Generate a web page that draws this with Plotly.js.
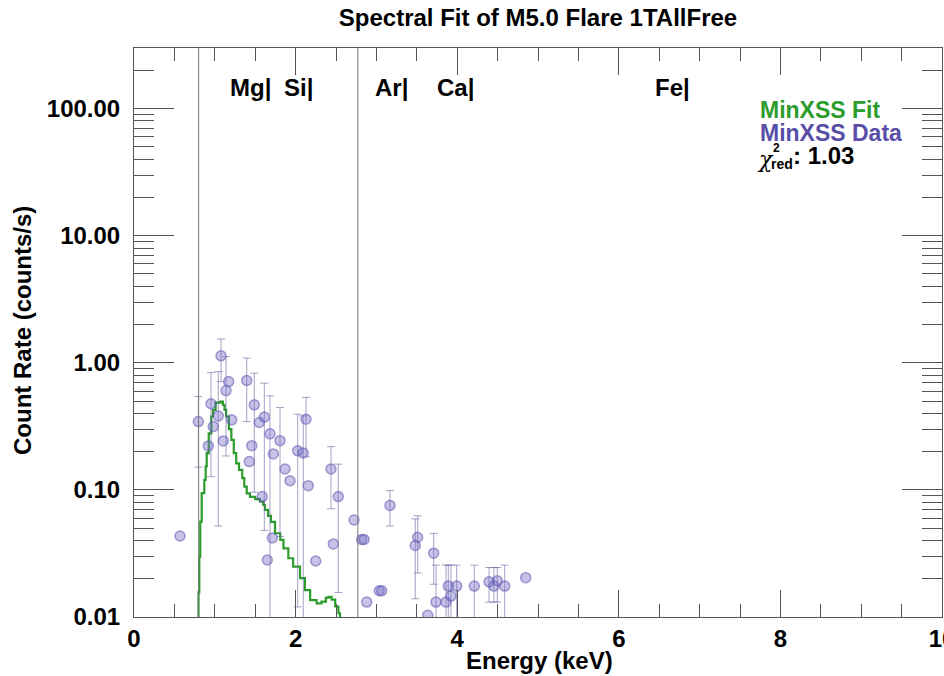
<!DOCTYPE html>
<html>
<head>
<meta charset="utf-8">
<script src="https://cdn.plot.ly/plotly-3.0.1.min.js"></script>
<style>html,body{margin:0;padding:0;background:#fff;}#chart{width:944px;height:676px;}</style>
</head>
<body>
<div id="chart"></div>
<script>
// ---- Data ----
const dataEnergy = [0.569,0.796,0.920,0.953,0.981,1.043,1.077,1.105,1.139,1.172,1.209,1.395,1.427,1.457,1.489,1.551,1.588,1.613,1.650,1.683,1.712,1.724,1.807,1.869,1.931,2.026,2.095,2.129,2.157,2.249,2.438,2.467,2.528,2.723,2.818,2.847,2.880,3.036,3.066,3.168,3.481,3.511,3.635,3.709,3.738,3.861,3.890,3.923,3.994,4.212,4.394,4.455,4.496,4.588,4.848];
const dataRate   = [0.0434,0.345,0.222,0.476,0.315,0.382,1.135,0.243,0.605,0.712,0.356,0.726,0.167,0.223,0.467,0.339,0.0886,0.374,0.0281,0.276,0.0418,0.192,0.244,0.146,0.118,0.203,0.195,0.360,0.108,0.0276,0.146,0.0376,0.0886,0.058,0.0408,0.0408,0.0131,0.0161,0.0161,0.0755,0.0365,0.0424,0.0103,0.0318,0.0131,0.0131,0.0175,0.0146,0.0175,0.0175,0.0189,0.0175,0.0193,0.0175,0.0204];
// null = no error bar visible in the reference
const dataErrPlus  = [null,0.198,null,0.362,null,0.47,0.405,null,0.515,null,null,0.364,null,null,0.362,null,null,0.318,null,0.274,null,null,0.201,null,null,0.191,0.187,0.175,null,null,0.073,null,0.071,null,null,null,null,null,null,0.0233,0.0226,0.0202,null,0.0137,0.0125,0.0125,0.0081,0.011,0.0081,0.0081,0.0056,0.007,0.0052,0.0081,null];
const dataErrMinus = [null,0.194,null,0.349,null,0.33,0.425,null,0.42,null,null,0.381,null,null,0.371,null,null,0.326,null,0.274,null,null,0.201,null,null,0.191,0.187,0.178,null,null,0.075,null,0.073,null,null,null,null,null,null,0.0235,0.0226,0.0202,null,0.0137,0.0125,0.0125,0.0081,0.011,0.0081,0.0081,0.0058,0.0044,0.0062,0.0081,null];

const fitEnergy = [0.78,0.798,0.808,0.82,0.838,0.87,0.887,0.90,0.925,0.957,0.978,1.01,1.07,1.10,1.12,1.14,1.175,1.205,1.235,1.265,1.30,1.34,1.365,1.395,1.435,1.50,1.56,1.60,1.62,1.66,1.695,1.745,1.81,1.85,1.91,1.97,2.055,2.115,2.18,2.26,2.32,2.375,2.41,2.445,2.49,2.53,2.55];
const fitRate   = [0.008,0.0156,0.0299,0.0563,0.0942,0.12,0.153,0.195,0.279,0.378,0.427,0.487,0.496,0.467,0.427,0.378,0.301,0.248,0.195,0.162,0.144,0.124,0.106,0.094,0.088,0.0845,0.081,0.0762,0.0696,0.0624,0.056,0.0456,0.0404,0.0347,0.029,0.0249,0.0202,0.0163,0.0136,0.0128,0.0132,0.0142,0.0144,0.0137,0.0121,0.0107,0.0095];

const fitRange = [0.8, 2.77];
const elementLabels = ['Mg|','Si|','Ar|','Ca|','Fe|'];
const elementX = [1.16, 1.83, 2.96, 3.73, 6.42];

const yTickVals = [0.01, 0.1, 1, 10, 100];
const yTickText = ['0.01','0.10','1.00','10.00','100.00'];
const xTickVals = [0, 2, 4, 6, 8, 10];
const xTickText = ['0','2','4','6','8','10'];

const titleText = 'Spectral Fit of M5.0 Flare 1TAllFree';
const chiValue = '1.03';

// ---- Styles ----
const FONT = 'Liberation Sans, Arial, Helvetica, sans-serif';
const GREEN = 'rgb(44,156,44)';
const PURPLE = 'rgb(88,78,168)';
const AXC = '#555';
const FS = 24;

const markerStyle = {size: 10, color: 'rgba(120,110,200,0.42)', line: {color: 'rgba(95,85,175,0.55)', width: 1.5}};

// split points: those with error bars and those without
const withErr = dataEnergy.map((_, i) => i).filter(i => dataErrPlus[i] !== null);
const noErr = dataEnergy.map((_, i) => i).filter(i => dataErrPlus[i] === null);

const traces = [
  {
    x: fitEnergy, y: fitRate, type: 'scatter', mode: 'lines',
    line: {shape: 'hv', color: GREEN, width: 2.2},
    hoverinfo: 'skip', showlegend: false
  },
  {
    x: withErr.map(i => dataEnergy[i]), y: withErr.map(i => dataRate[i]),
    type: 'scatter', mode: 'markers', marker: markerStyle,
    error_y: {type: 'data', symmetric: false,
              array: withErr.map(i => dataErrPlus[i]), arrayminus: withErr.map(i => dataErrMinus[i]),
              color: 'rgba(105,98,160,0.6)', thickness: 1, width: 4},
    showlegend: false
  },
  {
    x: noErr.map(i => dataEnergy[i]), y: noErr.map(i => dataRate[i]),
    type: 'scatter', mode: 'markers', marker: markerStyle, showlegend: false
  }
];

const shapes = fitRange.map(v => ({
  type: 'line', xref: 'x', yref: 'paper', x0: v, x1: v, y0: 0, y1: 1,
  line: {color: '#777', width: 1}
}));

const annotations = [];
elementLabels.forEach((t, i) => annotations.push({
  text: t, x: elementX[i], xref: 'x', y: 0.93, yref: 'paper',
  xanchor: 'left', yanchor: 'middle', showarrow: false,
  font: {family: FONT, size: FS, color: '#000', weight: 'bold'}
}));
const px = v => (v - 134) / 808;
const py = v => (617 - v) / 569;
annotations.push(
  {text: 'MinXSS Fit', x: px(758), y: py(110), xref: 'paper', yref: 'paper', xanchor: 'left', yanchor: 'middle', showarrow: false,
   font: {family: FONT, size: 23, color: GREEN, weight: 'bold'}},
  {text: 'MinXSS Data', x: px(758), y: py(133), xref: 'paper', yref: 'paper', xanchor: 'left', yanchor: 'middle', showarrow: false,
   font: {family: FONT, size: 23, color: PURPLE, weight: 'bold'}},
  {text: '<i>χ</i>', x: px(755), y: py(159), xref: 'paper', yref: 'paper', xanchor: 'left', yanchor: 'middle', showarrow: false,
   font: {family: 'DejaVu Serif, serif', size: 22, color: '#000'}},
  {text: '2', x: px(771), y: py(148), xref: 'paper', yref: 'paper', xanchor: 'left', yanchor: 'middle', showarrow: false,
   font: {family: FONT, size: 12, color: '#000', weight: 'bold'}},
  {text: 'red', x: px(769), y: py(164), xref: 'paper', yref: 'paper', xanchor: 'left', yanchor: 'middle', showarrow: false,
   font: {family: FONT, size: 14, color: '#000', weight: 'bold'}},
  {text: ': ' + chiValue, x: px(791), y: py(156), xref: 'paper', yref: 'paper', xanchor: 'left', yanchor: 'middle', showarrow: false,
   font: {family: FONT, size: FS, color: '#000', weight: 'bold'}},
  {text: 'Count Rate (counts/s)', x: px(22), y: py(330), xref: 'paper', yref: 'paper', xanchor: 'center', yanchor: 'middle',
   textangle: -90, showarrow: false, font: {family: FONT, size: FS, color: '#000', weight: 'bold'}},
  {text: 'Energy (keV)', x: px(539), y: py(660), xref: 'paper', yref: 'paper', xanchor: 'center', yanchor: 'middle',
   showarrow: false, font: {family: FONT, size: FS, color: '#000', weight: 'bold'}}
);

const layout = {
  width: 944, height: 676,
  margin: {l: 134, r: 2, t: 48, b: 59, pad: 0},
  paper_bgcolor: '#fff', plot_bgcolor: '#fff',
  showlegend: false,
  title: {text: titleText, x: 0.5, xref: 'paper', xanchor: 'center', y: 1 - 18/676, yanchor: 'middle',
          font: {family: FONT, size: FS, color: '#000', weight: 'bold'}},
  xaxis: {
    range: [0, 10], showgrid: false, zeroline: false,
    showline: true, linecolor: AXC, linewidth: 1, mirror: 'ticks',
    ticks: 'inside', ticklen: 27, tickcolor: AXC, tickwidth: 1,
    tickvals: xTickVals, ticktext: xTickText, ticklabeloverflow: 'allow',
    minor: {dtick: 0.5, ticks: 'inside', ticklen: 13, tickcolor: AXC, tickwidth: 1, showgrid: false},
    tickfont: {family: FONT, size: FS, color: '#000', weight: 'bold'}
  },
  yaxis: {
    type: 'log', range: [-2, Math.log10(300)], showgrid: false, zeroline: false,
    showline: true, linecolor: AXC, linewidth: 1, mirror: 'ticks',
    ticks: 'inside', ticklen: 40, tickcolor: AXC, tickwidth: 1,
    tickvals: yTickVals, ticktext: yTickText,
    minor: {dtick: 'D1', ticks: 'inside', ticklen: 20, tickcolor: AXC, tickwidth: 1, showgrid: false},
    ticklabelstandoff: 8,
    tickfont: {family: FONT, size: FS, color: '#000', weight: 'bold'}
  },
  shapes: shapes,
  annotations: annotations
};

Plotly.newPlot('chart', traces, layout, {displayModeBar: false, staticPlot: true});
</script>
</body>
</html>
